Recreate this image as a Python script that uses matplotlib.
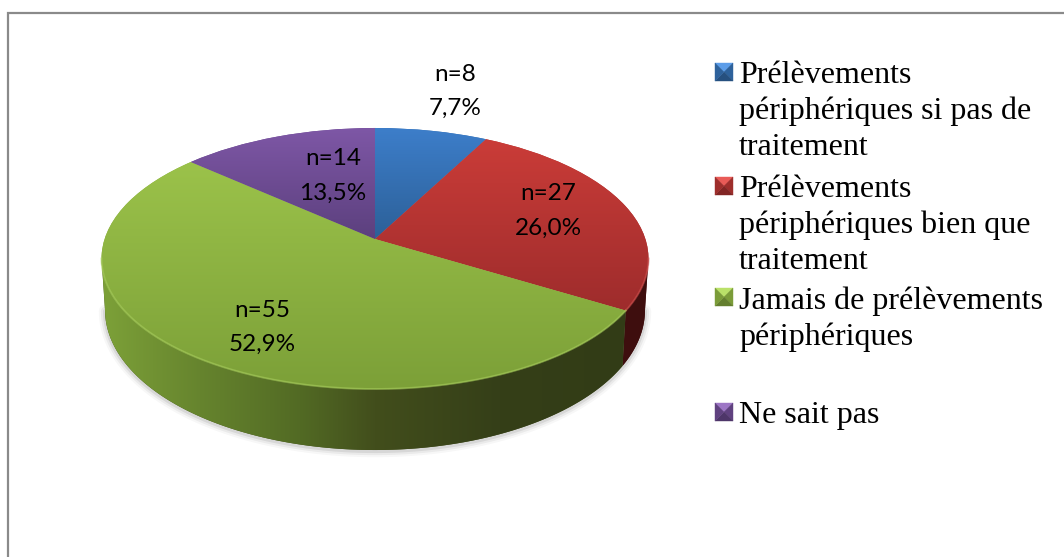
import numpy as np
import matplotlib
matplotlib.use("Agg")
import matplotlib.pyplot as plt
from matplotlib.transforms import Transform
from matplotlib.patches import Polygon

counts = [8, 27, 55, 14]
legend_labels = [
    "Prélèvements\npériphériques si pas de\ntraitement",
    "Prélèvements\npériphériques bien que\ntraitement",
    "Jamais de prélèvements\npériphériques",
    "Ne sait pas",
]
top_colors = [((61, 126, 202), (44, 96, 152)),
              ((202, 60, 56), (158, 44, 44)),
              ((155, 194, 74), (124, 160, 56)),
              ((126, 87, 166), (92, 64, 126))]
side_stops = [[(105, (70, 18, 16)), (648, (62, 14, 14))],
              [(105, (70, 18, 16)), (648, (62, 14, 14))],
              [(105, (124, 160, 56)), (200, (102, 132, 46)), (300, (82, 106, 36)),
               (375, (66, 78, 28)), (500, (53, 63, 24)), (625, (50, 60, 22))],
              [(105, (70, 50, 100)), (648, (70, 50, 100))]]
label_pos = [(455, 91.5), (548, 211), (262, 327.5), (333, 176)]
legend_marker_y = [72, 186, 297, 412]
legend_text_y = [72, 186, 297, 412]

CX, CY, K, A, B = 375.0, 239.0, 0.1494, 127.6, 270.4
FRONT = (-171.4, -8.6)


class Persp(Transform):
    input_dims = output_dims = 2
    is_separable = False
    has_inverse = False

    def transform_non_affine(self, xy):
        xy = np.asarray(xy, float)
        w = 1 + K * xy[:, 1]
        return np.column_stack((CX + B * xy[:, 0] / w, CY - A * xy[:, 1] / w))


persp = Persp()


def rim(t1, t2, n=200):
    t = np.radians(np.linspace(t1, t2, n))
    return persp.transform_non_affine(np.column_stack((np.cos(t), np.sin(t))))


def lower(p):
    q = p.copy()
    q[:, 0] = CX + (q[:, 0] - CX) * 270 / 273.5
    q[:, 1] = 310 + (q[:, 1] - 258.5) * 140 / 130.5
    return q


fig = plt.figure(figsize=(10.64, 5.57), dpi=100, facecolor="white")
ax = fig.add_axes([0, 0, 1, 1])

wedges, _ = ax.pie(counts, startangle=90, counterclock=False, radius=1)
ax.set_aspect("auto")
ax.set_xlim(0, 1064)
ax.set_ylim(557, 0)
ax.set_axis_off()

# frame
ax.plot([8, 8, 1064], [557, 12.5, 12.5], color="#8a8a8a", lw=1.6, zorder=1,
        solid_joinstyle="miter", clip_on=False)

# soft shadow beneath the body
bot = lower(rim(FRONT[0], FRONT[1]))
for lw, a in [(9, 0.03), (6, 0.05), (3, 0.08)]:
    ax.plot(bot[:, 0], bot[:, 1] + 1, color="black", lw=lw, alpha=a, zorder=2,
            solid_capstyle="round")

# side walls (only the part of each slice that faces the viewer)
spans = []
for i, w in enumerate(wedges):
    lo, hi = max(w.theta1, FRONT[0]), min(w.theta2, FRONT[1])
    spans.append((lo, hi))
    if lo >= hi:
        continue
    pts = rim(lo, hi)
    low = lower(pts)
    poly = np.vstack((pts, low[::-1]))
    stops = side_stops[i]
    xs = np.arange(100, 651)
    grad = np.column_stack([np.interp(xs, [s[0] for s in stops],
                                      [s[1][c] for s in stops]) for c in range(3)]) / 255
    base = Polygon(poly, closed=True, facecolor=grad[len(grad) // 2], edgecolor="none", zorder=3)
    ax.add_patch(base)
    im = ax.imshow(grad[None, :, :], extent=(100, 651, 460, 120), aspect="auto",
                   interpolation="bilinear", zorder=3.1)
    im.set_clip_path(base)

# top surface
for i, w in enumerate(wedges):
    c0, c1 = [np.array(c) / 255 for c in top_colors[i]]
    w.set_transform(persp + ax.transData)
    w.set_facecolor((c0 + c1) / 2)
    w.set_edgecolor("none")
    w.set_zorder(4)
    pts = rim(w.theta1, w.theta2)
    y0, y1 = min(pts[:, 1].min(), CY), max(pts[:, 1].max(), CY)
    f = np.linspace(0, 1, 64)[:, None]
    grad = (c0 + (c1 - c0) * f)[:, None, :]
    im = ax.imshow(grad, extent=(95, 655, y1, y0), aspect="auto",
                   interpolation="bilinear", zorder=4.1)
    im.set_clip_path(w)
    # bevel highlight along the near rim only
    lo, hi = spans[i]
    if lo < hi:
        front = rim(lo, hi)
        light = np.clip((c0 + c1) / 2 + 0.1, 0, 1)
        ax.plot(front[:, 0], front[:, 1], color=light, lw=1.4, alpha=0.6, zorder=4.2)

ax.set_xlim(0, 1064)
ax.set_ylim(557, 0)

# data labels
total = sum(counts)
for n, (x, y) in zip(counts, label_pos):
    pct = f"{100 * n / total:.1f}".replace(".", ",")
    ax.text(x, y, f"n={n}\n{pct}%", ha="center", va="center", fontsize=17.5,
            family="Lato", color="black", linespacing=1.8, zorder=6)

# legend
S = 9
for i, (label, ym, yt) in enumerate(zip(legend_labels, legend_marker_y, legend_text_y)):
    c0, c1 = [np.array(c) / 255 for c in top_colors[i]]
    xc = 724
    mid = (c0 + c1) / 2
    corners = [(xc - S, ym - S), (xc + S, ym - S), (xc + S, ym + S), (xc - S, ym + S)]
    shades = [np.clip(c0 + 0.12, 0, 1), mid * 0.88, mid * 0.72, mid * 0.88]
    for k in range(4):
        ax.add_patch(Polygon([corners[k], corners[(k + 1) % 4], (xc, ym)], closed=True,
                             facecolor=shades[k], edgecolor=shades[k], lw=0.3, zorder=5))
    ax.text(739, yt - 11, label, ha="left", va="top", fontsize=23,
            family="Liberation Serif", color="black", linespacing=1.3, zorder=6)

fig.savefig("out.png", dpi=100, facecolor="white")
